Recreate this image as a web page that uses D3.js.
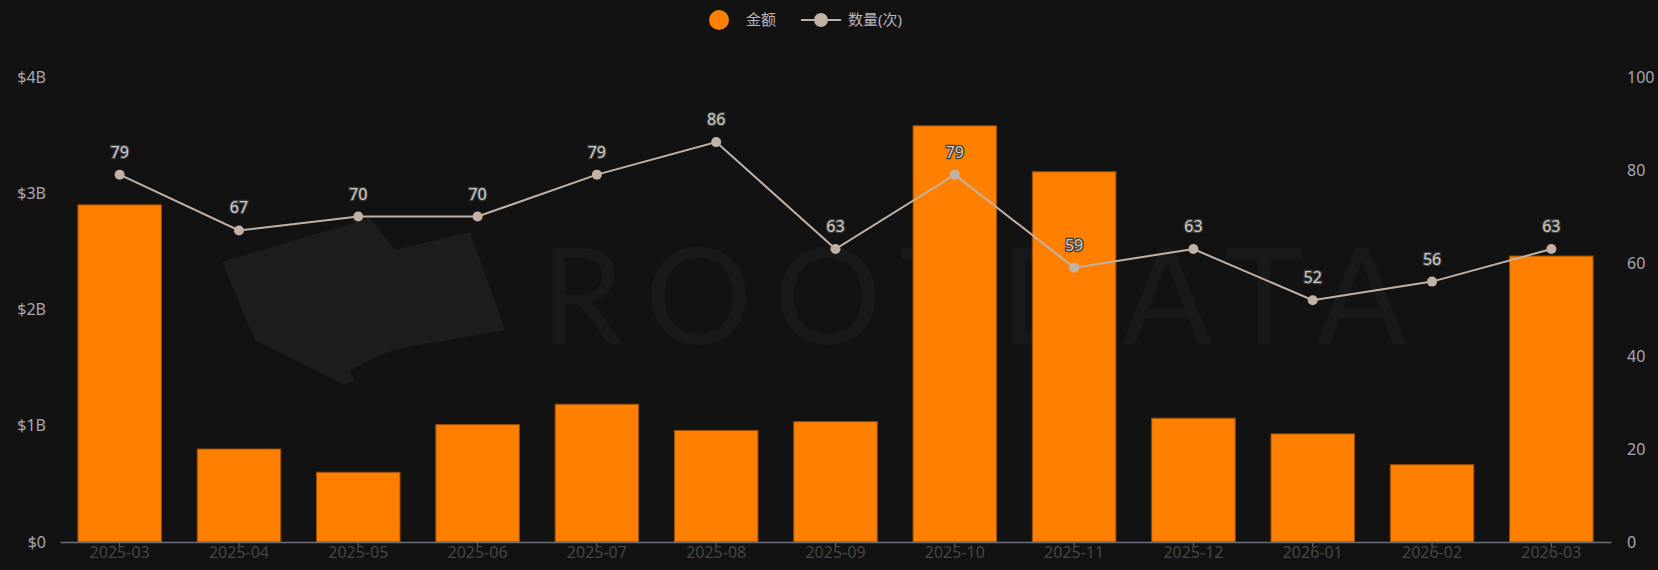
<!DOCTYPE html>
<html>
<head>
<meta charset="utf-8">
<script src="https://cdn.jsdelivr.net/npm/d3@7/dist/d3.min.js"></script>
<style>
  html, body { margin: 0; padding: 0; background: #121212; }
  svg { display: block; }
</style>
</head>
<body>
<svg></svg>
<script>
var months = ["2025-03", "2025-04", "2025-05", "2025-06", "2025-07", "2025-08", "2025-09",
              "2025-10", "2025-11", "2025-12", "2026-01", "2026-02", "2026-03"];
// 金额, in billions of USD
var amounts = [2.90, 0.80, 0.60, 1.01, 1.185, 0.96, 1.035, 3.58, 3.185, 1.065, 0.93, 0.665, 2.46];
// 数量(次)
var counts = [79, 67, 70, 70, 79, 86, 63, 79, 59, 63, 52, 56, 63];
var leftTicks = [0, 1, 2, 3, 4];
var rightTicks = [0, 20, 40, 60, 80, 100];
var legendNames = ["金额", "数量(次)"];

var width = 1658, height = 570;
var svg = d3.select("svg").attr("width", width).attr("height", height);

var margin = {left: 60, right: 47, top: 77, bottom: 28};
var x0 = margin.left, x1 = width - margin.right;
var y0 = height - margin.bottom, y1 = margin.top;

var x = d3.scaleBand().domain(months).range([x0, x1]).paddingInner(0.3).paddingOuter(0.15);
var yL = d3.scaleLinear().domain([0, 4]).range([y0, y1]);
var yR = d3.scaleLinear().domain([0, 100]).range([y0, y1]);

var font = "'Noto Sans', 'Noto Sans CJK SC', sans-serif";

// faint watermark
var wm = svg.append("g");
wm.append("path")
    .attr("d", "M222,262 L370,218 L395,250 L470,232 L505,330 L420,345 Q380,350 350,372 L355,380 L345,385 L255,340 Z")
    .attr("fill", "#1d1d1d");
wm.append("text")
    .attr("x", 540).attr("y", 344)
    .attr("textLength", 867)
    .attr("lengthAdjust", "spacing")
    .attr("font-family", "'Lato', sans-serif")
    .attr("font-size", 134)
    .attr("font-weight", 400)
    .attr("fill", "#191919")
    .text("ROOTDATA");

// bars
svg.append("g")
    .selectAll("rect")
    .data(amounts)
    .join("rect")
    .attr("x", (d, i) => x(months[i]))
    .attr("y", d => yL(d))
    .attr("width", x.bandwidth())
    .attr("height", d => y0 - yL(d))
    .attr("fill", "#ff8000")
    .attr("stroke", "#9a4d00")
    .attr("stroke-width", 1);

// x axis
var xAxis = svg.append("g")
    .attr("transform", "translate(0," + y0 + ")")
    .call(d3.axisBottom(x).tickSize(5).tickSizeOuter(0));
xAxis.select(".domain").attr("stroke", "#6e7079").attr("stroke-width", 1.5);
xAxis.selectAll(".tick line").attr("stroke", "#6e7079");
xAxis.selectAll(".tick text")
    .attr("fill", "#464646")
    .attr("font-size", 16)
    .attr("font-family", font)
    .attr("dy", "0.5em");

// left axis
var leftAxis = svg.append("g")
    .attr("transform", "translate(" + (x0 - 11) + ",0)")
    .call(d3.axisLeft(yL).tickValues(leftTicks).tickSize(0).tickFormat(d => "$" + d + (d ? "B" : "")));
leftAxis.select(".domain").remove();
leftAxis.selectAll(".tick text")
    .attr("fill", "#aaa7b2")
    .attr("font-size", 16)
    .attr("font-family", font);

// right axis
var rightAxis = svg.append("g")
    .attr("transform", "translate(" + (x1 + 13) + ",0)")
    .call(d3.axisRight(yR).tickValues(rightTicks).tickSize(0));
rightAxis.select(".domain").remove();
rightAxis.selectAll(".tick text")
    .attr("fill", "#aaa7b2")
    .attr("font-size", 16)
    .attr("font-family", font);

// count line
var cx = (d, i) => x(months[i]) + x.bandwidth() / 2;
var line = d3.line().x(cx).y(d => yR(d));

svg.append("path")
    .datum(counts)
    .attr("d", line)
    .attr("fill", "none")
    .attr("stroke", "#c2b2a6")
    .attr("stroke-width", 2);

svg.append("g")
    .selectAll("circle")
    .data(counts)
    .join("circle")
    .attr("cx", cx)
    .attr("cy", d => yR(d))
    .attr("r", 5)
    .attr("fill", "#c2b2a6");

svg.append("g")
    .selectAll("text")
    .data(counts)
    .join("text")
    .attr("x", cx)
    .attr("y", d => yR(d) - 17)
    .attr("text-anchor", "middle")
    .attr("font-size", 16)
    .attr("font-family", font)
    .attr("fill", "#cfcfcf")
    .attr("stroke", "#3a3a3a")
    .attr("stroke-width", 2.5)
    .attr("paint-order", "stroke")
    .text(d => d);

// legend
var legend = svg.append("g").attr("font-family", font).attr("font-size", 15);
legend.append("circle").attr("cx", 719).attr("cy", 20).attr("r", 10).attr("fill", "#ff8000");
legend.append("text").attr("x", 746).attr("y", 25).attr("fill", "#b8b4c0").text(legendNames[0]);
legend.append("line").attr("x1", 801).attr("x2", 841).attr("y1", 20).attr("y2", 20)
    .attr("stroke", "#c2b2a6").attr("stroke-width", 2);
legend.append("circle").attr("cx", 821).attr("cy", 20).attr("r", 7).attr("fill", "#c2b2a6");
legend.append("text").attr("x", 848).attr("y", 25).attr("fill", "#b8b4c0").text(legendNames[1]);
</script>
</body>
</html>
